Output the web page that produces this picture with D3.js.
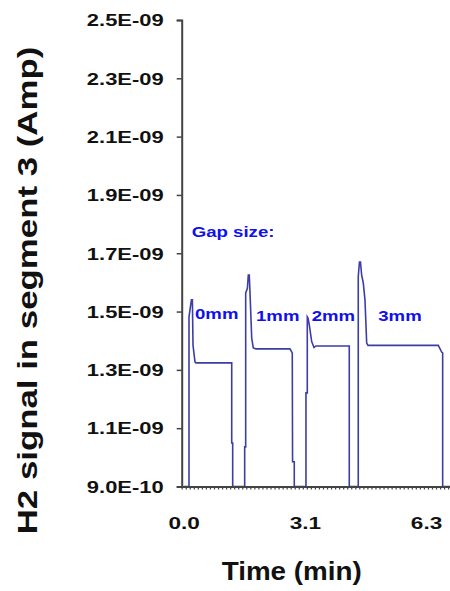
<!DOCTYPE html>
<html>
<head>
<meta charset="utf-8">
<script src="https://cdn.jsdelivr.net/npm/d3@7"></script>
<style>
  html, body { margin: 0; padding: 0; background: #fff; }
  svg { display: block; font-family: "Liberation Sans", Arial, sans-serif; font-weight: bold; }
</style>
</head>
<body>
<script>
// H2 signal trace (time in min, signal in Amp)
var timeMin = [
  0.000, 0.137, 0.137, 0.200, 0.225, 0.241, 0.293, 0.319, 1.244, 1.244, 1.269, 1.269,
  1.580, 1.580, 1.606, 1.606, 1.650, 1.674, 1.699, 1.718, 1.762, 1.803, 1.873, 2.754, 2.813, 2.821, 2.865, 2.865,
  3.168, 3.168, 3.202, 3.202, 3.220, 3.254, 3.316, 3.376, 3.427, 4.290, 4.290,
  4.523, 4.523, 4.554, 4.580, 4.611, 4.653, 4.697, 4.741, 4.775, 6.596, 6.684, 6.710, 6.710, 6.900
];
var signalAmp = [
  0.900e-9, 0.900e-9, 1.482e-9, 1.540e-9, 1.540e-9, 1.385e-9, 1.327e-9, 1.324e-9, 1.324e-9, 1.049e-9, 1.049e-9, 0.900e-9,
  0.900e-9, 1.036e-9, 1.036e-9, 1.564e-9, 1.580e-9, 1.625e-9, 1.625e-9, 1.564e-9, 1.409e-9, 1.375e-9, 1.372e-9, 1.372e-9, 1.358e-9, 0.985e-9, 0.985e-9, 0.900e-9,
  0.900e-9, 1.221e-9, 1.221e-9, 1.482e-9, 1.478e-9, 1.454e-9, 1.397e-9, 1.377e-9, 1.382e-9, 1.382e-9, 0.900e-9,
  0.900e-9, 1.620e-9, 1.670e-9, 1.670e-9, 1.625e-9, 1.598e-9, 1.540e-9, 1.392e-9, 1.384e-9, 1.384e-9, 1.361e-9, 1.358e-9, 0.900e-9, 0.900e-9
];

var yTicks = [0.9e-9, 1.1e-9, 1.3e-9, 1.5e-9, 1.7e-9, 1.9e-9, 2.1e-9, 2.3e-9, 2.5e-9];
var yTickLabels = ['9.0E-10', '1.1E-09', '1.3E-09', '1.5E-09', '1.7E-09', '1.9E-09', '2.1E-09', '2.3E-09', '2.5E-09'];
var xTicks = [0, 3.14, 6.28];
var xTickLabels = ['0.0', '3.1', '6.3'];

// annotations: text, time, signal
var noteText = ['Gap size:', '0mm', '1mm', '2mm', '3mm'];
var noteTime = [0.207, 0.293, 1.873, 3.316, 5.041];
var noteSignal = [1.755e-9, 1.476e-9, 1.469e-9, 1.469e-9, 1.469e-9];

var width = 450, height = 591;
var stretch = 1.33; // the original text is drawn wide

var svg = d3.select('body').append('svg')
    .attr('width', width)
    .attr('height', height);

var x = d3.scaleLinear().domain([-0.052, 6.90]).range([181.7, 450]);
var y = d3.scaleLinear().domain([0.9e-9, 2.5e-9]).range([486.5, 20]);

svg.append('clipPath').attr('id', 'plot')
    .append('rect')
    .attr('x', x.range()[0]).attr('y', y.range()[1])
    .attr('width', x.range()[1] - x.range()[0])
    .attr('height', y.range()[0] - y.range()[1]);

var line = d3.line()
    .x(function(d, i) { return x(timeMin[i]); })
    .y(function(d) { return y(d); });

svg.append('path')
    .datum(signalAmp)
    .attr('clip-path', 'url(#plot)')
    .attr('d', line)
    .attr('fill', 'none')
    .attr('stroke', '#3d3da6')
    .attr('stroke-width', 1.6);

// annotations
svg.selectAll('text.note')
    .data(noteText)
    .enter()
    .append('text')
    .attr('class', 'note')
    .attr('transform', function(d, i) {
        return 'translate(' + x(noteTime[i]) + ',' + y(noteSignal[i]) + ') scale(' + stretch + ',1)';
    })
    .attr('font-size', 14)
    .attr('fill', '#1010ee')
    .text(function(d) { return d; });

// y axis
var yAxis = d3.axisLeft(y)
    .tickValues(yTicks)
    .tickFormat(function(d, i) { return yTickLabels[i]; })
    .tickSize(5)
    .tickPadding(0);

var gy = svg.append('g')
    .attr('transform', 'translate(' + x.range()[0] + ',0)')
    .call(yAxis);
gy.select('.domain').attr('stroke', '#444').attr('stroke-width', 2);
gy.selectAll('.tick line').attr('stroke', '#444').attr('stroke-width', 1.5);
gy.selectAll('.tick text')
    .attr('x', null)
    .attr('dy', '0.35em')
    .attr('transform', 'translate(-18,0) scale(' + stretch + ',1)')
    .attr('font-size', 16.5)
    .attr('font-family', '"Liberation Sans", Arial, sans-serif')
    .attr('font-weight', 'bold')
    .attr('fill', '#111');

// x axis: minor category ticks plus labelled ones
var catStep = 0.1046;
var minorTicks = d3.range(0, 67).map(function(k) { return -0.052 + k * catStep; });

var gxMinor = svg.append('g')
    .attr('transform', 'translate(0,' + y.range()[0] + ')')
    .call(d3.axisBottom(x).tickValues(minorTicks).tickFormat('').tickSize(3).tickSizeOuter(0));
gxMinor.select('.domain').attr('stroke', '#444').attr('stroke-width', 2);
gxMinor.selectAll('.tick line').attr('stroke', '#444').attr('stroke-width', 1.2);

var gx = svg.append('g')
    .attr('transform', 'translate(0,' + y.range()[0] + ')')
    .call(d3.axisBottom(x).tickValues(xTicks)
        .tickFormat(function(d, i) { return xTickLabels[i]; })
        .tickSize(0));
gx.select('.domain').remove();
gx.selectAll('.tick text')
    .attr('y', null)
    .attr('dy', null)
    .attr('transform', 'translate(0,42.5) scale(' + stretch + ',1)')
    .attr('font-size', 17)
    .attr('font-family', '"Liberation Sans", Arial, sans-serif')
    .attr('font-weight', 'bold')
    .attr('fill', '#111');

// axis titles
svg.append('text')
    .attr('transform', 'translate(36.5,290.5) rotate(-90) scale(1.29,1)')
    .attr('text-anchor', 'middle')
    .attr('font-size', 27)
    .attr('fill', '#111')
    .text('H2 signal in segment 3 (Amp)');

svg.append('text')
    .attr('transform', 'translate(291.7,580) scale(1.07,1)')
    .attr('text-anchor', 'middle')
    .attr('font-size', 26)
    .attr('fill', '#111')
    .text('Time (min)');
</script>
</body>
</html>
